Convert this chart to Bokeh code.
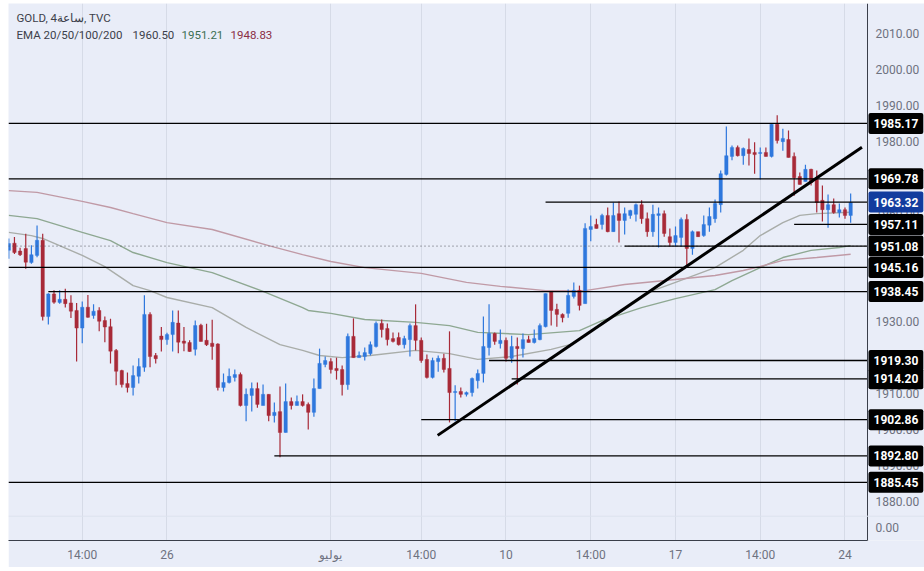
from bokeh.embed import file_html
from bokeh.models import BoxAnnotation, ColumnDataSource, FixedTicker, Label, NumeralTickFormatter, Range1d, Span
from bokeh.plotting import figure
from bokeh.resources import INLINE

# 4h candles, one entry per bar
opens = [
    1949.9, 1951.9, 1949.7, 1950.4, 1946.5, 1948.5, 1952.7, 1931.5, 1937.8, 1935.4,
    1936.3, 1935.3, 1933.2, 1928.3, 1934.1, 1931.8, 1933.2, 1930.4, 1928.7, 1922.1,
    1916.5, 1912.9, 1911.8, 1914.9, 1917.4, 1932.1, 1920.7, 1926.1, 1925.1, 1926.5,
    1929.7, 1924.7, 1924.3, 1922.4, 1929.1, 1924.9, 1924.1, 1923.9, 1911.8, 1913.2,
    1914.6, 1915.4, 1906.8, 1909.6, 1911.5, 1906.8, 1909.9, 1904.0, 1905.1, 1899.3,
    1907.9, 1906.8, 1907.9, 1907.1, 1904.9, 1911.5, 1918.2, 1919.0, 1917.1, 1916.8,
    1912.6, 1926.0, 1920.1, 1920.4, 1921.2, 1923.2, 1929.6, 1928.2, 1925.4, 1925.7,
    1923.7, 1925.1, 1929.0, 1924.9, 1919.6, 1914.6, 1919.0, 1919.9, 1917.1, 1910.4,
    1910.7, 1909.9, 1910.4, 1913.7, 1915.7, 1922.9, 1926.8, 1924.0, 1924.9, 1919.9,
    1923.2, 1922.6, 1925.1, 1924.3, 1925.1, 1928.7, 1938.5, 1933.5, 1932.1, 1932.4,
    1937.1, 1938.8, 1935.1, 1955.7, 1957.1, 1957.1, 1959.6, 1955.1, 1960.1, 1958.2,
    1959.6, 1959.9, 1962.6, 1958.7, 1955.1, 1959.6, 1960.1, 1953.7, 1952.1, 1953.5,
    1958.5, 1950.4, 1955.1, 1954.0, 1956.9, 1958.7, 1962.6, 1971.0, 1976.0, 1978.5,
    1976.2, 1977.9, 1977.1, 1976.8, 1977.1, 1976.0, 1984.9, 1980.1, 1980.7, 1976.0,
    1970.4, 1969.0, 1972.4, 1969.6, 1963.8, 1961.2, 1962.6, 1960.4, 1961.2, 1959.6,
]
highs = [
    1953.2, 1953.6, 1950.6, 1954.5, 1951.3, 1956.8, 1954.5, 1938.0, 1938.8, 1938.8,
    1939.2, 1937.4, 1935.3, 1935.7, 1937.5, 1934.9, 1934.1, 1931.5, 1930.9, 1922.5,
    1916.7, 1916.0, 1917.9, 1919.9, 1937.4, 1932.7, 1921.4, 1928.6, 1927.0, 1933.2,
    1933.2, 1928.6, 1924.9, 1930.4, 1929.5, 1929.5, 1930.6, 1924.1, 1915.7, 1917.1,
    1916.8, 1916.0, 1911.5, 1913.2, 1913.2, 1912.6, 1909.9, 1907.6, 1912.1, 1912.9,
    1909.0, 1909.6, 1909.9, 1907.6, 1914.3, 1922.6, 1920.4, 1919.9, 1920.1, 1917.9,
    1926.8, 1931.0, 1921.8, 1922.9, 1924.6, 1930.1, 1930.7, 1929.6, 1927.1, 1927.1,
    1926.2, 1929.6, 1934.9, 1925.7, 1921.0, 1920.1, 1920.7, 1921.2, 1927.4, 1912.4,
    1911.8, 1910.7, 1914.6, 1916.8, 1931.5, 1934.9, 1927.1, 1927.9, 1925.7, 1926.2,
    1925.7, 1926.8, 1926.2, 1927.9, 1929.6, 1937.9, 1938.5, 1935.1, 1932.4, 1939.0,
    1941.0, 1940.1, 1957.4, 1959.6, 1958.7, 1960.1, 1961.8, 1963.2, 1963.5, 1961.8,
    1961.2, 1962.9, 1963.8, 1960.4, 1962.6, 1961.8, 1961.0, 1956.0, 1956.5, 1959.0,
    1959.9, 1955.4, 1955.1, 1959.6, 1961.8, 1964.0, 1972.1, 1984.3, 1979.0, 1979.0,
    1978.5, 1981.0, 1979.9, 1978.5, 1978.5, 1985.1, 1987.4, 1983.7, 1983.2, 1977.1,
    1971.5, 1973.7, 1972.6, 1972.1, 1967.9, 1965.4, 1964.3, 1962.9, 1961.8, 1965.7,
]
lows = [
    1947.6, 1948.9, 1948.3, 1944.8, 1946.2, 1948.0, 1930.4, 1929.3, 1935.1, 1935.1,
    1934.0, 1931.1, 1919.0, 1924.1, 1931.2, 1930.9, 1927.4, 1924.4, 1918.5, 1912.4,
    1911.8, 1910.4, 1909.6, 1912.9, 1916.2, 1917.4, 1918.5, 1921.8, 1923.7, 1921.8,
    1921.3, 1921.9, 1921.7, 1920.7, 1924.6, 1923.3, 1919.5, 1911.0, 1910.7, 1912.9,
    1913.5, 1906.5, 1902.4, 1905.1, 1906.2, 1906.8, 1902.4, 1902.1, 1892.4, 1899.3,
    1905.7, 1906.8, 1906.5, 1900.1, 1903.7, 1911.5, 1917.4, 1915.7, 1914.0, 1909.6,
    1911.2, 1920.1, 1920.1, 1919.3, 1920.7, 1922.9, 1925.7, 1923.5, 1924.3, 1923.5,
    1922.6, 1920.4, 1922.1, 1918.7, 1914.3, 1914.3, 1916.2, 1916.0, 1902.1, 1902.4,
    1909.0, 1909.3, 1909.3, 1911.5, 1913.2, 1920.7, 1923.7, 1922.6, 1919.0, 1918.7,
    1912.6, 1920.1, 1924.3, 1924.0, 1924.9, 1928.5, 1929.0, 1928.7, 1929.9, 1931.2,
    1936.5, 1933.2, 1935.1, 1952.4, 1956.0, 1955.7, 1954.9, 1955.1, 1952.1, 1954.3,
    1958.7, 1957.9, 1957.3, 1953.7, 1953.7, 1950.7, 1953.7, 1951.0, 1951.0, 1951.0,
    1945.1, 1948.7, 1953.7, 1953.7, 1955.1, 1957.6, 1960.4, 1970.7, 1974.9, 1976.0,
    1973.7, 1973.5, 1971.2, 1969.6, 1976.0, 1975.7, 1979.6, 1977.6, 1975.7, 1965.1,
    1968.2, 1969.0, 1967.9, 1960.4, 1957.9, 1956.2, 1960.1, 1959.0, 1958.7, 1957.6,
]
closes = [
    1951.8, 1949.3, 1948.7, 1946.6, 1948.7, 1952.7, 1931.5, 1937.8, 1935.5, 1936.3,
    1935.1, 1933.0, 1928.3, 1934.1, 1931.3, 1933.0, 1930.2, 1928.6, 1921.9, 1916.3,
    1912.6, 1911.8, 1915.1, 1917.6, 1932.1, 1920.4, 1919.8, 1925.1, 1926.5, 1929.9,
    1924.4, 1924.1, 1921.8, 1929.0, 1924.6, 1923.7, 1923.2, 1911.8, 1913.2, 1914.9,
    1915.4, 1906.8, 1909.9, 1911.5, 1907.1, 1909.9, 1904.0, 1904.9, 1899.3, 1907.9,
    1906.8, 1907.9, 1906.8, 1904.9, 1911.5, 1918.5, 1919.3, 1916.8, 1916.5, 1912.6,
    1926.0, 1920.1, 1920.7, 1921.5, 1923.7, 1929.6, 1927.9, 1925.1, 1924.6, 1923.7,
    1925.4, 1929.0, 1924.9, 1919.3, 1914.6, 1919.3, 1919.9, 1916.8, 1910.4, 1910.7,
    1909.9, 1910.4, 1914.3, 1915.7, 1923.2, 1926.8, 1924.6, 1924.9, 1919.9, 1923.2,
    1922.6, 1925.1, 1924.3, 1925.4, 1929.0, 1937.9, 1933.2, 1932.1, 1931.2, 1937.4,
    1938.8, 1934.6, 1956.0, 1956.5, 1956.0, 1959.6, 1955.1, 1959.6, 1958.2, 1960.1,
    1961.0, 1962.6, 1958.7, 1955.1, 1959.9, 1960.1, 1954.6, 1952.1, 1954.0, 1958.5,
    1950.4, 1955.1, 1953.7, 1957.1, 1959.3, 1962.9, 1971.2, 1976.2, 1978.5, 1976.2,
    1978.2, 1976.8, 1976.5, 1977.1, 1976.0, 1984.9, 1980.4, 1981.0, 1975.7, 1970.1,
    1968.2, 1972.4, 1968.7, 1963.2, 1961.2, 1962.6, 1960.4, 1961.2, 1959.6, 1963.2,
]

# moving averages, read at the bars where the curves bend
ema_grey_bars = [0, 4, 6, 13, 17, 22, 25, 28, 36, 42, 48, 52, 55, 59, 64, 72, 78, 83, 89, 96,
                 100, 101, 106, 114, 118, 125, 130, 133, 137, 140, 143, 149]
ema_grey = [1954.9, 1954.0, 1953.2, 1948.5, 1945.4, 1940.1, 1938.7, 1936.8, 1934.0, 1928.5,
            1923.7, 1922.1, 1920.7, 1920.1, 1920.7, 1922.1, 1921.2, 1919.6, 1920.4, 1922.4,
            1924.0, 1925.4, 1930.4, 1938.7, 1941.0, 1945.1, 1949.9, 1954.0, 1957.6, 1959.6,
            1960.1, 1960.5]
ema_green_bars = [0, 5, 13, 18, 22, 28, 36, 45, 52, 53, 57, 63, 72, 78, 83, 92, 101, 105, 112,
                  118, 125, 128, 133, 137, 142, 147, 149]
ema_green = [1959.6, 1958.7, 1954.9, 1952.6, 1949.3, 1946.5, 1943.7, 1938.5, 1934.0, 1933.2,
             1932.4, 1930.7, 1929.9, 1929.0, 1927.1, 1926.5, 1927.6, 1930.4, 1934.0, 1936.5,
             1939.0, 1941.5, 1945.1, 1947.9, 1949.9, 1950.7, 1951.21]
ema_red_bars = [0, 5, 13, 18, 22, 28, 36, 46, 52, 57, 63, 73, 81, 87, 95, 102, 109, 118, 125,
                130, 133, 137, 143, 149]
ema_red = [1966.5, 1966.0, 1963.5, 1961.8, 1960.1, 1957.6, 1955.7, 1951.2, 1948.7, 1946.8,
           1945.1, 1943.5, 1941.0, 1939.9, 1938.7, 1938.7, 1940.4, 1941.8, 1942.9, 1944.3,
           1945.4, 1947.1, 1947.9, 1948.83]

# drawn levels and the bar each one starts from
levels = [1985.17, 1969.78, 1963.32, 1957.11, 1951.08, 1945.16, 1938.45, 1919.30, 1914.20, 1902.86, 1892.80, 1885.45]
level_starts = [-1, -1, 95, 139, 109, -1, 7, 85, 89, 73, 47, -1]

trend_bars = [75.9, 151.0]
trend_prices = [1898.5, 1978.55]

time_ticks = [13, 28, 57, 73, 88, 103, 118, 133, 148]
time_labels = ["14:00", "26", "يوليو", "14:00", "10", "14:00", "17", "14:00", "24"]
price_ticks = [2010, 2000, 1990, 1980, 1970, 1960, 1950, 1940, 1930, 1920, 1910, 1900, 1890, 1880]

BG = "#E9EDF8"
UP = "#2F78DD"
DOWN = "#A82A38"
AXIS_TEXT = "#6E7280"
FONT = "Roboto"

bars = list(range(len(opens)))
colors = [UP if c >= o else DOWN for o, c in zip(opens, closes)]
source = ColumnDataSource(dict(
    x=bars,
    low=lows,
    high=highs,
    top=[max(o, c) for o, c in zip(opens, closes)],
    bottom=[min(o, c) for o, c in zip(opens, closes)],
    color=colors,
))

# the frame runs under the price scale too, labels outside a frame do not show
x_start = -0.053
x_axis_end = x_start + 859 / 5.65
x_end = x_start + 916 / 5.65

p = figure(width=916, height=564, output_backend="svg", toolbar_location=None, tools="",
           x_range=Range1d(x_start, x_end), y_range=Range1d(1869.3, 2018.47),
           y_axis_location="right", min_border_left=0, min_border_right=0,
           min_border_top=0, min_border_bottom=27,
           background_fill_color=BG, border_fill_color=BG, outline_line_color=None)
p.margin = (3, 0, 0, 8)

p.ygrid.visible = False
p.xgrid.ticker = FixedTicker(ticks=time_ticks)
p.xgrid.grid_line_color = "#D6DBE7"

p.xaxis.ticker = FixedTicker(ticks=time_ticks)
p.xaxis.major_label_overrides = dict(zip(time_ticks, time_labels))
p.xaxis.bounds = (x_start, x_axis_end)
p.xaxis.axis_line_color = "#3A3F4A"
p.xaxis.major_tick_line_color = None
p.xaxis.minor_tick_line_color = None
p.xaxis.major_tick_out = 0
p.xaxis.major_tick_in = 0
p.xaxis.major_label_text_color = AXIS_TEXT
p.xaxis.major_label_text_font = FONT
p.xaxis.major_label_text_font_size = "12px"
p.xaxis.major_label_standoff = 7

p.yaxis.fixed_location = x_axis_end
p.yaxis.ticker = FixedTicker(ticks=price_ticks)
p.yaxis.formatter = NumeralTickFormatter(format="0.00")
p.yaxis.axis_line_color = "#3A3F4A"
p.yaxis.major_tick_line_color = None
p.yaxis.minor_tick_line_color = None
p.yaxis.major_tick_out = 0
p.yaxis.major_tick_in = 0
p.yaxis.major_label_text_color = AXIS_TEXT
p.yaxis.major_label_text_font = FONT
p.yaxis.major_label_text_font_size = "12px"
p.yaxis.major_label_standoff = 8

# pane separator of the empty volume pane
p.add_layout(Span(location=1876.05, dimension="width", line_color="#DDE2EE", line_width=1))
# axis line carries on past the frame, down through the time scale
p.add_layout(BoxAnnotation(left=858.6, right=859.8, top=537, bottom=564, left_units="canvas", right_units="canvas",
                           top_units="canvas", bottom_units="canvas", fill_color="#3A3F4A", fill_alpha=1, line_color=None))

p.line(ema_grey_bars, ema_grey, line_color="#A9ADA9", line_width=1.4)
p.line(ema_green_bars, ema_green, line_color="#8EA892", line_width=1.4)
p.line(ema_red_bars, ema_red, line_color="#C09AA6", line_width=1.4)

p.segment("x", "low", "x", "high", line_color="color", line_width=1.2, source=source)
p.vbar("x", 0.6, "bottom", "top", fill_color="color", line_color="color", line_width=0.4, source=source)

p.line([x_start, x_axis_end], [1951.08, 1951.08], line_color="#55585F", line_width=1, line_dash=[1, 3])
for level, start in zip(levels, level_starts):
    p.line([start if start >= 0 else x_start, x_axis_end], [level, level], line_color="black", line_width=1.3)
p.line(trend_bars, trend_prices, line_color="black", line_width=3)

# price tags over the scale
for level in levels:
    p.add_layout(Label(x=860, x_units="canvas", y=level, text=f"{level:.2f}", text_color="white",
                       text_font=FONT, text_font_size="12px", text_font_style="bold", text_baseline="middle",
                       background_fill_color="#123C9E" if level == 1963.32 else "black", border_radius=2,
                       padding=(5, 6)))

p.add_layout(Label(x=867, x_units="canvas", y=1873.0, text="0.00", text_color=AXIS_TEXT, text_font=FONT,
                   text_font_size="12px", text_baseline="middle"))


def header(x, y, text, color):
    p.add_layout(Label(x=x, y=y, x_units="screen", y_units="screen", text=text, text_color=color, text_font=FONT,
                       text_font_size="11.5px", text_baseline="middle"))


header(8, 523, "GOLD, 4ساعة, TVC", "#3C3F4A")
header(8, 506, "EMA 20/50/100/200", "#3C3F4A")
header(124, 506, "1960.50", "#3C3F4A")
header(173, 506, "1951.21", "#3B6E52")
header(222, 506, "1948.83", "#8B2E45")

open("out.html", "w").write(file_html(p, INLINE))
